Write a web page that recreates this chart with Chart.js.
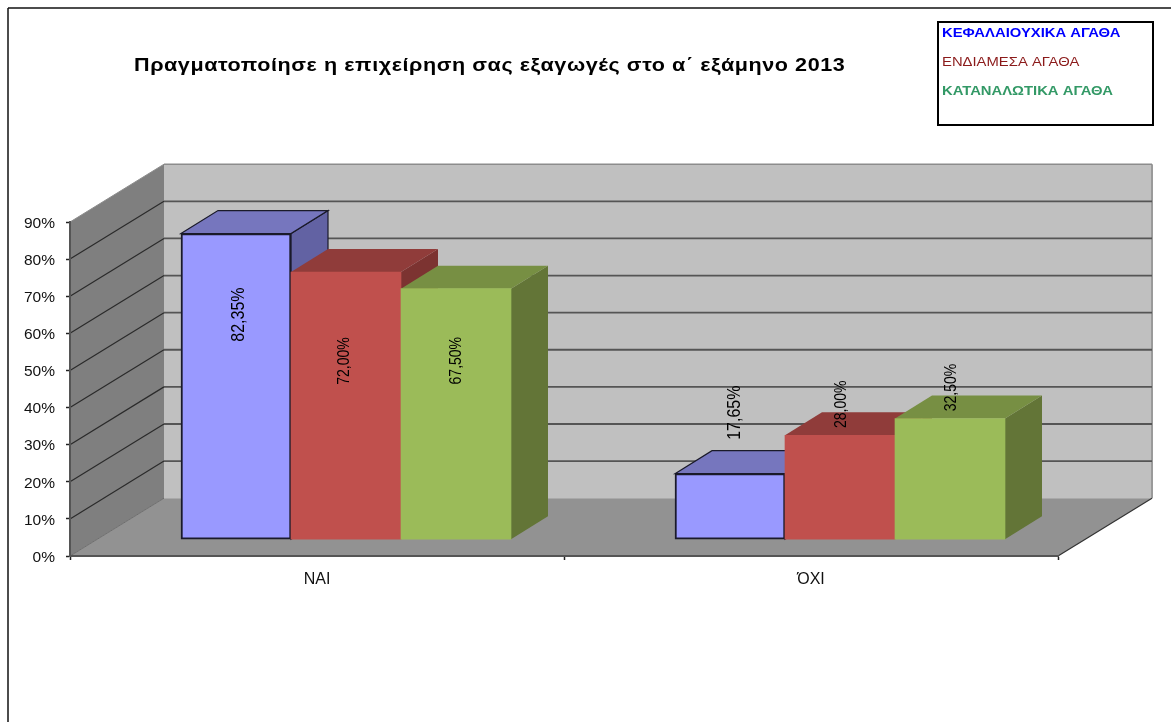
<!DOCTYPE html>
<html lang="el">
<head>
<meta charset="utf-8">
<title>Chart</title>
<script src="https://cdn.jsdelivr.net/npm/chart.js@4"></script>
<style>
html,body{margin:0;padding:0;background:#fff;overflow:hidden}
#wrap{width:1171px;height:722px;position:relative}
</style>
</head>
<body>
<div id="wrap"><canvas id="c" width="1171" height="722"></canvas></div>
<script>
const chartTitle = 'Πραγματοποίησε η επιχείρηση σας εξαγωγές στο α΄ εξάμηνο 2013';
const categories = ['ΝΑΙ', 'ΌΧΙ'];
const seriesNames = ['ΚΕΦΑΛΑΙΟΥΧΙΚΑ ΑΓΑΘΑ', 'ΕΝΔΙΑΜΕΣΑ ΑΓΑΘΑ', 'ΚΑΤΑΝΑΛΩΤΙΚΑ ΑΓΑΘΑ'];
const kefalaiouchika = [82.35, 17.65];
const endiamesa = [72.00, 28.00];
const katanalotika = [67.50, 32.50];

const WALL = {dx: 94, dy: -57.8};
const BAR = {dx: 37, dy: -23};
const faces = [
  {front:'#9999FF', top:'#7676BE', side:'#6262A3', edge:'#1a1a2a', legend:'#0000FF', legendFont:'bold 13px "Liberation Sans"'},
  {front:'#C0504D', top:'#903C3A', side:'#7C3331', edge:null, legend:'#8B1A1A', legendFont:'13px "Liberation Sans"'},
  {front:'#9BBB59', top:'#778F43', side:'#637537', edge:null, legend:'#339966', legendFont:'bold 13px "Liberation Sans"'}
];
const labelStyle = [
  [{dx:3,dy:81,size:16},{dx:5,dy:-61,size:16}],
  [{dx:-1,dy:89,size:14},{dx:2,dy:-31,size:14}],
  [{dx:1,dy:72,size:14},{dx:2,dy:-31,size:14}]
];

function poly(ctx, pts, fill, stroke, lw){
  ctx.beginPath();
  pts.forEach((p,i)=> i?ctx.lineTo(p[0],p[1]):ctx.moveTo(p[0],p[1]));
  ctx.closePath();
  if(fill){ctx.fillStyle=fill;ctx.fill();}
  if(stroke){ctx.strokeStyle=stroke;ctx.lineWidth=lw||1;ctx.stroke();}
}
function seg(ctx,x1,y1,x2,y2,color,lw){
  ctx.beginPath();ctx.moveTo(x1,y1);ctx.lineTo(x2,y2);
  ctx.strokeStyle=color;ctx.lineWidth=lw;ctx.stroke();
}

const scene3d = {
  id:'scene3d',
  afterLayout(chart){
    const tb=chart.titleBlock, ctx=chart.ctx;
    tb.left = 134;
    if(!tb._stretched){
      const orig=tb.draw;
      tb.draw=function(){
        ctx.save();
        ctx.translate(134,0);ctx.scale(1.135,1);ctx.translate(-134,0);
        ctx.letterSpacing='0.5px';
        orig.apply(tb,arguments);
        ctx.restore();
      };
      tb._stretched=true;
    }
  },
  beforeDraw(chart){
    const ctx=chart.ctx, y=chart.scales.y, x=chart.scales.x;
    const l=x.left, r=x.right, b=y.getPixelForValue(0), t=y.getPixelForValue(90);
    const d=WALL;
    ctx.save();
    seg(ctx,8,8,1171,8,'#111',1.5);
    seg(ctx,8,8,8,722,'#111',1.5);
    poly(ctx,[[l+d.dx,t+d.dy],[r+d.dx,t+d.dy],[r+d.dx,b+d.dy],[l+d.dx,b+d.dy]],'#C0C0C0');
    poly(ctx,[[l,t],[l+d.dx,t+d.dy],[l+d.dx,b+d.dy],[l,b]],'#7F7F7F');
    poly(ctx,[[l,b],[l+d.dx,b+d.dy],[r+d.dx,b+d.dy],[r,b]],'#929292');
    seg(ctx,r+d.dx,t+d.dy,r+d.dx,b+d.dy,'#9a9a9a',2);
    seg(ctx,r,b,r+d.dx,b+d.dy,'#333',1.2);
    seg(ctx,l,t,l+d.dx,t+d.dy,'#8c8c8c',1);
    seg(ctx,l,b,l+d.dx,b+d.dy,'#6e6e6e',1);
    seg(ctx,l+d.dx,t+d.dy,r+d.dx,t+d.dy,'#8c8c8c',1.5);
    y.ticks.forEach(tk=>{
      const py=y.getPixelForValue(tk.value);
      if(tk.value>0 && tk.value<90){
        seg(ctx,l,py,l+d.dx,py+d.dy,'#2b2b2b',1.2);
        seg(ctx,l+d.dx,py+d.dy,r+d.dx,py+d.dy,'#555',1.8);
      }
    });
    ctx.restore();
  },
  beforeDatasetsDraw(chart){
    const ctx=chart.ctx;
    chart.data.datasets.forEach((ds,i)=>{
      const meta=chart.getDatasetMeta(i), f=faces[i];
      ctx.save();
      meta.data.forEach(el=>{
        const hw=el.width/2, L=el.x-hw, R=el.x+hw, T=el.y, B=el.base;
        poly(ctx,[[R,T],[R+BAR.dx,T+BAR.dy],[R+BAR.dx,B+BAR.dy],[R,B]],f.side,f.edge,1.2);
        poly(ctx,[[L,T],[L+BAR.dx,T+BAR.dy],[R+BAR.dx,T+BAR.dy],[R,T]],f.top,f.edge,1.2);
      });
      ctx.restore();
      meta.controller.draw();
    });
    return false;
  },
  afterDraw(chart){
    const ctx=chart.ctx;
    ctx.save();
    ctx.textAlign='center';ctx.textBaseline='middle';ctx.fillStyle='#000';
    chart.data.datasets.forEach((ds,i)=>{
      chart.getDatasetMeta(i).data.forEach((el,j)=>{
        const s=labelStyle[i][j];
        ctx.save();
        ctx.translate(el.x+s.dx,el.y+s.dy);
        ctx.rotate(-Math.PI/2);
        ctx.scale(1,1.15);
        ctx.font=s.size+'px "Liberation Sans"';
        ctx.fillText(ds.data[j].y.toFixed(2).replace('.',',')+'%',0,0);
        ctx.restore();
      });
    });
    ctx.strokeStyle='#000';ctx.lineWidth=2;ctx.strokeRect(938,22,215,103);
    ctx.textAlign='left';
    seriesNames.forEach((n,i)=>{
      ctx.save();
      ctx.translate(942,33+29*i);
      ctx.scale(1.14,1);
      ctx.font=faces[i].legendFont;ctx.fillStyle=faces[i].legend;
      ctx.fillText(n,0,0);
      ctx.restore();
    });
    ctx.restore();
  }
};

const series=[kefalaiouchika,endiamesa,katanalotika];
new Chart(document.getElementById('c'),{
  type:'bar',
  data:{
    labels:categories,
    datasets:series.map((vals,i)=>({
      label:seriesNames[i],
      data:vals.map((v,j)=>({x:j,y:v})),
      xAxisID:'xb',yAxisID:'yb',
      backgroundColor:faces[i].front,
      borderColor:faces[i].edge||faces[i].front,
      borderWidth:faces[i].edge?2:0,
      borderSkipped:false,
      barThickness:110
    }))
  },
  options:{
    responsive:false,
    animation:false,
    layout:{padding:{left:0,right:113,top:0,bottom:0}},
    plugins:{
      legend:{display:false},
      tooltip:{enabled:false},
      title:{display:true,text:chartTitle,align:'start',color:'#000',
        font:{family:'"Liberation Sans"',size:19,weight:'bold',lineHeight:1.2},
        padding:{top:54,bottom:145.2}}
    },
    scales:{
      x:{type:'category',offset:true,position:'bottom',
        afterFit(s){s.height=722-556;},
        grid:{offset:true,drawOnChartArea:false,drawTicks:true,tickLength:4,tickColor:'#222',tickWidth:1.5},
        border:{color:'#555',width:2},
        ticks:{color:'#111',padding:10,maxRotation:0,font:{family:'"Liberation Sans"',size:16}}},
      y:{type:'linear',min:0,max:90,position:'left',
        afterFit(s){s.width=70;},
        grid:{drawOnChartArea:false,tickLength:4,tickColor:'#222',tickWidth:1.5},
        border:{color:'#555',width:2},
        ticks:{stepSize:10,color:'#111',padding:11,labelOffset:1.5,font:{family:'"Liberation Sans"',size:15.5},callback:v=>v+'%'}},
      xb:{type:'linear',axis:'x',display:false,offset:false,min:-0.5587,max:1.4413},
      yb:{type:'linear',axis:'y',display:false,min:-4.53,max:85.47}
    }
  },
  plugins:[scene3d]
});
</script>
</body>
</html>
